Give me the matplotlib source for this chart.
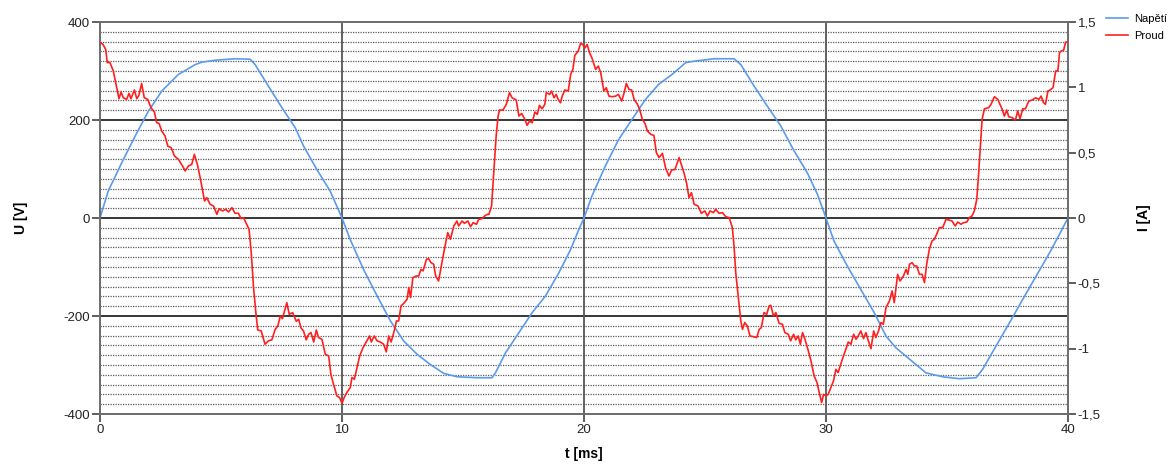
import numpy as np
import matplotlib
matplotlib.use("Agg")
import matplotlib.pyplot as plt
from matplotlib.ticker import FuncFormatter, MultipleLocator

plt.rcParams['font.family'] = ['Liberation Sans', 'DejaVu Sans']
plt.rcParams['axes.unicode_minus'] = False

# voltage (Napětí) [V]
t_u = [0, 0.34, 0.90, 1.45, 2.0, 2.55, 3.24, 3.93, 4.21, 4.76, 5.59, 6.21, 6.41, 6.96,
       7.52, 8.07, 8.41, 8.96, 9.51, 10.0, 10.34, 10.89, 11.45, 12.0, 12.55, 13.10, 13.65,
       14.20, 14.75, 15.58, 16.2, 16.34, 16.76, 17.31, 17.86, 18.41, 18.96, 19.45, 19.79,
       20.0, 20.33, 20.88, 21.43, 21.98, 22.54, 23.09, 23.64, 24.2, 24.55, 25.38, 26.2,
       26.48, 27.03, 27.58, 28.13, 28.68, 29.23, 29.65, 30.0, 30.33, 30.88, 31.44, 31.99,
       32.48, 32.89, 33.45, 34.13, 34.82, 35.51, 36.2, 36.47, 37.03, 37.58, 38.13, 38.69,
       39.24, 39.65, 40.0]
u_vals = [0, 55, 113, 167, 218, 259, 293, 313, 318, 322, 325, 324, 313, 269,
          225, 184, 147, 99, 55, 0, -44, -105, -159, -210, -251, -278, -299,
          -317, -324, -326, -326, -316, -275, -234, -193, -159, -112, -64, -23,
          0, 45, 106, 160, 201, 242, 273, 293, 317, 320, 325, 325,
          313, 269, 228, 188, 137, 92, 48, 0, -47, -98, -146, -193,
          -241, -265, -288, -316, -324, -328, -326, -309, -261, -214, -166, -118,
          -71, -33, 0]

# current (Proud) [A]
t_i = [0.0, 0.12, 0.235, 0.30, 0.41, 0.55, 0.65, 0.785, 0.87, 0.965, 1.10, 1.20, 1.28, 1.42,
       1.52, 1.61, 1.72, 1.83, 1.97, 2.11, 2.25, 2.34, 2.44, 2.55, 2.69, 2.80, 2.94, 3.08,
       3.24, 3.41, 3.52, 3.65, 3.79, 3.90, 4.04, 4.18, 4.32, 4.41, 4.55, 4.69, 4.83, 4.92,
       5.06, 5.20, 5.31, 5.45, 5.58, 5.72, 5.83, 5.93, 6.03, 6.16, 6.25, 6.34, 6.44, 6.52,
       6.66, 6.82, 6.96, 7.10, 7.24, 7.35, 7.45, 7.54, 7.72, 7.82, 7.96, 8.11, 8.21, 8.30,
       8.41, 8.52, 8.62, 8.72, 8.83, 8.94, 9.03, 9.17, 9.31, 9.45, 9.54, 9.65, 9.79, 9.90,
       10.0, 10.09, 10.20, 10.34, 10.41, 10.51, 10.62, 10.73, 10.87, 11.00, 11.14, 11.21,
       11.33, 11.45, 11.58, 11.72, 11.83, 11.93, 12.03, 12.14, 12.25, 12.34, 12.44, 12.58,
       12.69, 12.76, 12.83, 12.93, 13.07, 13.17, 13.26, 13.35, 13.49, 13.58, 13.68, 13.79,
       13.87, 13.99, 14.09, 14.23, 14.37, 14.48, 14.62, 14.75, 14.82, 14.96, 15.06, 15.20,
       15.31, 15.42, 15.56, 15.65, 15.79, 15.89, 16.0, 16.07, 16.18, 16.27, 16.37, 16.45,
       16.51, 16.65, 16.79, 16.92, 17.03, 17.20, 17.31, 17.42, 17.56, 17.65, 17.75, 17.86,
       17.97, 18.07, 18.16, 18.27, 18.38, 18.44, 18.58, 18.66, 18.76, 18.85, 18.93, 19.03,
       19.10, 19.21, 19.35, 19.45, 19.54, 19.62, 19.76, 19.86, 19.95, 20.03, 20.13, 20.23,
       20.34, 20.48, 20.59, 20.69, 20.75, 20.82, 20.92, 21.03, 21.17, 21.31, 21.42, 21.56,
       21.66, 21.75, 21.86, 21.97, 22.07, 22.21, 22.30, 22.41, 22.52, 22.62, 22.76, 22.89,
       22.99, 23.10, 23.24, 23.37, 23.51, 23.62, 23.76, 23.93, 24.04, 24.13, 24.24, 24.34,
       24.44, 24.55, 24.71, 24.85, 24.99, 25.10, 25.21, 25.35, 25.44, 25.58, 25.72, 25.86,
       26.0, 26.13, 26.20, 26.27, 26.37, 26.48, 26.55, 26.64, 26.75, 26.86, 27.0, 27.14,
       27.24, 27.33, 27.44, 27.55, 27.65, 27.72, 27.83, 27.93, 28.06, 28.20, 28.30, 28.44,
       28.54, 28.66, 28.75, 28.85, 28.94, 29.03, 29.13, 29.27, 29.38, 29.51, 29.63, 29.72,
       29.82, 29.90, 30.0, 30.09, 30.20, 30.31, 30.41, 30.50, 30.61, 30.72, 30.82, 30.92,
       31.03, 31.14, 31.24, 31.33, 31.44, 31.55, 31.65, 31.75, 31.86, 31.97, 32.06, 32.17,
       32.27, 32.37, 32.48, 32.62, 32.73, 32.82, 32.96, 33.06, 33.20, 33.31, 33.38, 33.45,
       33.56, 33.65, 33.75, 33.86, 33.97, 34.07, 34.16, 34.27, 34.38, 34.48, 34.57, 34.68,
       34.82, 34.96, 35.07, 35.21, 35.34, 35.44, 35.58, 35.68, 35.82, 35.92, 36.03, 36.13,
       36.23, 36.31, 36.37, 36.45, 36.55, 36.72, 36.82, 36.96, 37.10, 37.19, 37.28, 37.37,
       37.47, 37.55, 37.69, 37.83, 37.92, 38.02, 38.13, 38.24, 38.38, 38.52, 38.66, 38.80,
       38.89, 38.99, 39.07, 39.17, 39.26, 39.38, 39.49, 39.58, 39.65, 39.72, 39.82, 39.90,
       39.97]
i_vals = [1.341, 1.33, 1.29, 1.19, 1.19, 1.125, 1.035, 0.913, 0.964, 0.92, 0.908, 0.954, 0.913, 0.98,
          0.913, 0.94, 1.03, 0.92, 0.908, 0.844, 0.81, 0.73, 0.724, 0.666, 0.627, 0.55, 0.538, 0.474,
          0.449, 0.398, 0.36, 0.398, 0.41, 0.487, 0.398, 0.27, 0.13, 0.156, 0.105, 0.092, 0.028, 0.071,
          0.054, 0.066, 0.046, 0.079, 0.036, 0.036, -0.005, 0.003, -0.036, -0.087, -0.265, -0.52, -0.724, -0.857,
          -0.864, -0.966, -0.94, -0.933, -0.852, -0.826, -0.75, -0.77, -0.648, -0.737, -0.724, -0.79, -0.775, -0.84,
          -0.864, -0.933, -0.89, -0.877, -0.949, -0.857, -0.915, -0.928, -1.043, -1.056, -1.196, -1.272, -1.362, -1.374,
          -1.418, -1.374, -1.336, -1.298, -1.221, -1.234, -1.145, -1.056, -0.992, -0.949, -0.903, -0.949,
          -0.903, -0.94, -0.949, -0.966, -1.025, -0.903, -0.949, -0.877, -0.788, -0.788, -0.673, -0.648,
          -0.622, -0.533, -0.609, -0.456, -0.444, -0.444, -0.393, -0.405, -0.316, -0.311, -0.342, -0.354,
          -0.444, -0.482, -0.38, -0.24, -0.112, -0.163, -0.061, -0.023, -0.061, -0.023, -0.041, -0.023,
          -0.066, -0.036, -0.048, -0.01, -0.005, 0.015, 0.028, 0.028, 0.092, 0.347, 0.627, 0.78,
          0.826, 0.826, 0.87, 0.959, 0.92, 0.903, 0.78, 0.80, 0.755, 0.709, 0.742, 0.729,
          0.811, 0.793, 0.862, 0.836, 0.87, 0.959, 0.946, 0.972, 0.92, 0.946, 0.908, 0.882,
          0.933, 0.98, 0.972, 1.10, 1.137, 1.244, 1.278, 1.336, 1.328, 1.30, 1.328, 1.265,
          1.219, 1.137, 1.163, 1.112, 1.048, 0.972, 0.997, 0.933, 0.928, 0.933, 0.946, 0.895,
          0.959, 1.03, 0.984, 0.98, 0.908, 0.87, 0.831, 0.755, 0.724, 0.666, 0.64, 0.632,
          0.50, 0.462, 0.495, 0.385, 0.321, 0.367, 0.372, 0.462, 0.398, 0.347, 0.265, 0.156,
          0.194, 0.105, 0.092, 0.036, 0.054, 0.015, 0.054, 0.041, 0.066, 0.036, 0.041, 0.010,
          0.003, -0.074, -0.214, -0.418, -0.597, -0.788, -0.852, -0.80, -0.826, -0.903, -0.908, -0.915,
          -0.852, -0.839, -0.724, -0.737, -0.673, -0.668, -0.75, -0.724, -0.806, -0.813, -0.877, -0.89,
          -0.94, -0.89, -0.933, -0.903, -0.966, -0.877, -0.928, -1.017, -1.094, -1.209, -1.26, -1.336,
          -1.413, -1.349, -1.362, -1.349, -1.298, -1.247, -1.158, -1.183, -1.12, -1.056, -1.005, -0.949,
          -0.966, -0.89, -0.928, -0.903, -0.864, -0.923, -0.877, -0.94, -1.0, -0.864, -0.915, -0.864,
          -0.80, -0.813, -0.686, -0.635, -0.558, -0.648, -0.431, -0.482, -0.444, -0.393, -0.431, -0.354,
          -0.342, -0.367, -0.367, -0.431, -0.431, -0.495, -0.354, -0.24, -0.176, -0.163, -0.125, -0.074,
          -0.074, -0.01, -0.015, -0.023, -0.061, -0.031, -0.048, -0.036, -0.031, 0.003, 0.015, 0.054,
          0.143, 0.347, 0.525, 0.755, 0.836, 0.844, 0.87, 0.928, 0.908, 0.87, 0.831, 0.78,
          0.826, 0.775, 0.768, 0.75, 0.819, 0.76, 0.836, 0.836, 0.895, 0.903, 0.92, 0.908,
          0.933, 0.882, 0.87, 0.972, 0.98, 0.997, 1.125, 1.125, 1.265, 1.278, 1.285, 1.346,
          1.346]

blue = '#5b9bea'
red = '#ff1f1f'
grey = '#6e6e6e'

fig = plt.figure(figsize=(11.74, 4.65), dpi=100)
ax1 = fig.add_axes([100/1174, 1 - 414/465, 968/1174, 392/465])
ax2 = ax1.twinx()

ax1.set_xlim(0, 40)
ax1.set_ylim(-400, 400)
ax2.set_ylim(-1.5, 1.5)

# grid: dotted every 20 V, solid at majors
for v in np.arange(-380, 400, 20):
    if v % 200 != 0:
        ax1.axhline(v, color='#5a5a5a', lw=0.9, ls=(0, (1, 1)), zorder=0)
for v in [-200, 0, 200]:
    ax1.axhline(v, color='black', lw=1.1, zorder=0.5)
for t in [10, 20, 30]:
    ax1.axvline(t, color='#555555', lw=1.3, zorder=0.5)

l1, = ax1.plot(t_u, u_vals, color=blue, lw=1.2, zorder=2)
l2, = ax2.plot(t_i, i_vals, color=red, lw=1.2, zorder=3)

ax1.xaxis.set_major_locator(MultipleLocator(10))
ax1.yaxis.set_major_locator(MultipleLocator(200))
ax2.yaxis.set_major_locator(MultipleLocator(0.5))
ax2.yaxis.set_major_formatter(FuncFormatter(lambda v, p: ('%g' % v).replace('.', ',')))

for ax in (ax1, ax2):
    for s in ax.spines.values():
        s.set_color(grey)
        s.set_linewidth(1.3)
    ax.tick_params(length=6, width=1.1, color='#333333', labelsize=9.5, pad=1, labelcolor='#222222')

ax1.set_xlabel('t [ms]', fontweight='bold', fontsize=10, labelpad=8)
ax1.set_ylabel('U [V]', fontweight='bold', fontsize=10, labelpad=26)
ax2.set_ylabel('I [A]', fontweight='bold', fontsize=10, rotation=90, labelpad=26)

fig.legend([l1, l2], ['Napětí', 'Proud'], loc='upper left', bbox_to_anchor=(1106/1174, 1 - 14/465),
           frameon=False, fontsize=8, handlelength=2.0, handletextpad=0.5, labelspacing=0.65,
           borderpad=0, borderaxespad=0)

fig.savefig('out.png', dpi=100)
